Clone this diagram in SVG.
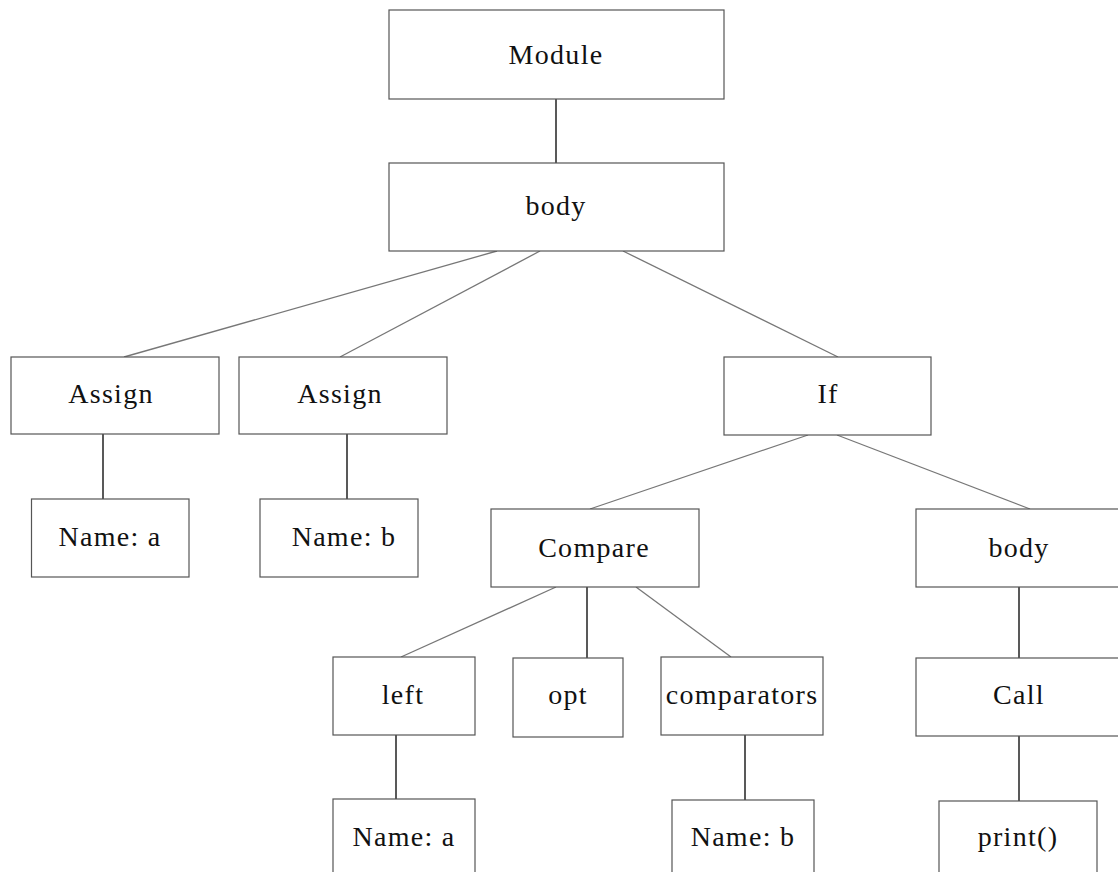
<svg xmlns="http://www.w3.org/2000/svg" width="1118" height="872" viewBox="0 0 1118 872">
<style>
.box{fill:#fff;stroke:#555;stroke-width:1.2}
text{font-family:'Liberation Serif','Times New Roman','DejaVu Serif',serif;font-size:28px;letter-spacing:1.3px;fill:#111;text-anchor:middle}
.v{stroke:#222;stroke-width:1.5;fill:none}
.d{stroke:#777;stroke-width:1.3;fill:none}
</style>
<rect width="1118" height="872" fill="#fff"/>
<g id="connectors">
<line class="v" x1="556" y1="99" x2="556" y2="163"/>
<line class="d" x1="497" y1="251" x2="124" y2="357"/>
<line class="d" x1="540" y1="251" x2="340" y2="357"/>
<line class="d" x1="623" y1="251" x2="838" y2="357"/>
<line class="v" x1="103" y1="434" x2="103" y2="499"/>
<line class="v" x1="347" y1="434" x2="347" y2="499"/>
<line class="d" x1="808" y1="435" x2="590" y2="509"/>
<line class="d" x1="837" y1="435" x2="1030" y2="509"/>
<line class="d" x1="556" y1="587" x2="401" y2="657"/>
<line class="v" x1="587" y1="587" x2="587" y2="658"/>
<line class="d" x1="636" y1="587" x2="731" y2="657"/>
<line class="v" x1="1019" y1="587" x2="1019" y2="658"/>
<line class="v" x1="1019" y1="736" x2="1019" y2="801"/>
<line class="v" x1="396" y1="735" x2="396" y2="800"/>
<line class="v" x1="745" y1="735" x2="745" y2="800"/>
</g>
<g id="module"><rect class="box" x="389" y="10" width="335" height="89"/><text x="556" y="64" font-family="Liberation Serif">Module</text></g>
<g id="body"><rect class="box" x="389" y="163" width="335" height="88"/><text x="556" y="215" font-family="Liberation Serif">body</text></g>
<g id="assign1"><rect class="box" x="11" y="357" width="208" height="77"/><text x="111" y="403" font-family="Liberation Serif">Assign</text></g>
<g id="assign2"><rect class="box" x="239" y="357" width="208" height="77"/><text x="340" y="403" font-family="Liberation Serif">Assign</text></g>
<g id="if"><rect class="box" x="724" y="357" width="207" height="78"/><text x="828" y="403" font-family="Liberation Serif">If</text></g>
<g id="name-a1"><rect class="box" x="31.5" y="499" width="157.5" height="78"/><text x="110" y="546" font-family="Liberation Serif">Name: a</text></g>
<g id="name-b1"><rect class="box" x="260" y="499" width="158" height="78"/><text x="344" y="546" font-family="Liberation Serif">Name: b</text></g>
<g id="compare"><rect class="box" x="491" y="509" width="208" height="78"/><text x="594" y="557" font-family="Liberation Serif">Compare</text></g>
<g id="body2"><rect class="box" x="916" y="509" width="206" height="78"/><text x="1019" y="557" font-family="Liberation Serif">body</text></g>
<g id="left"><rect class="box" x="333" y="657" width="142" height="78"/><text x="403" y="704" font-family="Liberation Serif">left</text></g>
<g id="opt"><rect class="box" x="513" y="658" width="110" height="79"/><text x="568" y="704" font-family="Liberation Serif">opt</text></g>
<g id="comparators"><rect class="box" x="661" y="657" width="162" height="78"/><text x="742" y="704" font-family="Liberation Serif">comparators</text></g>
<g id="call"><rect class="box" x="916" y="658" width="206" height="78"/><text x="1019" y="704" font-family="Liberation Serif">Call</text></g>
<g id="name-a2"><rect class="box" x="333" y="799" width="142" height="80"/><text x="404" y="846" font-family="Liberation Serif">Name: a</text></g>
<g id="name-b2"><rect class="box" x="672" y="800" width="142" height="80"/><text x="743" y="846" font-family="Liberation Serif">Name: b</text></g>
<g id="print"><rect class="box" x="939" y="801" width="158" height="80"/><text x="1018" y="846" font-family="Liberation Serif">print()</text></g>
</svg>
